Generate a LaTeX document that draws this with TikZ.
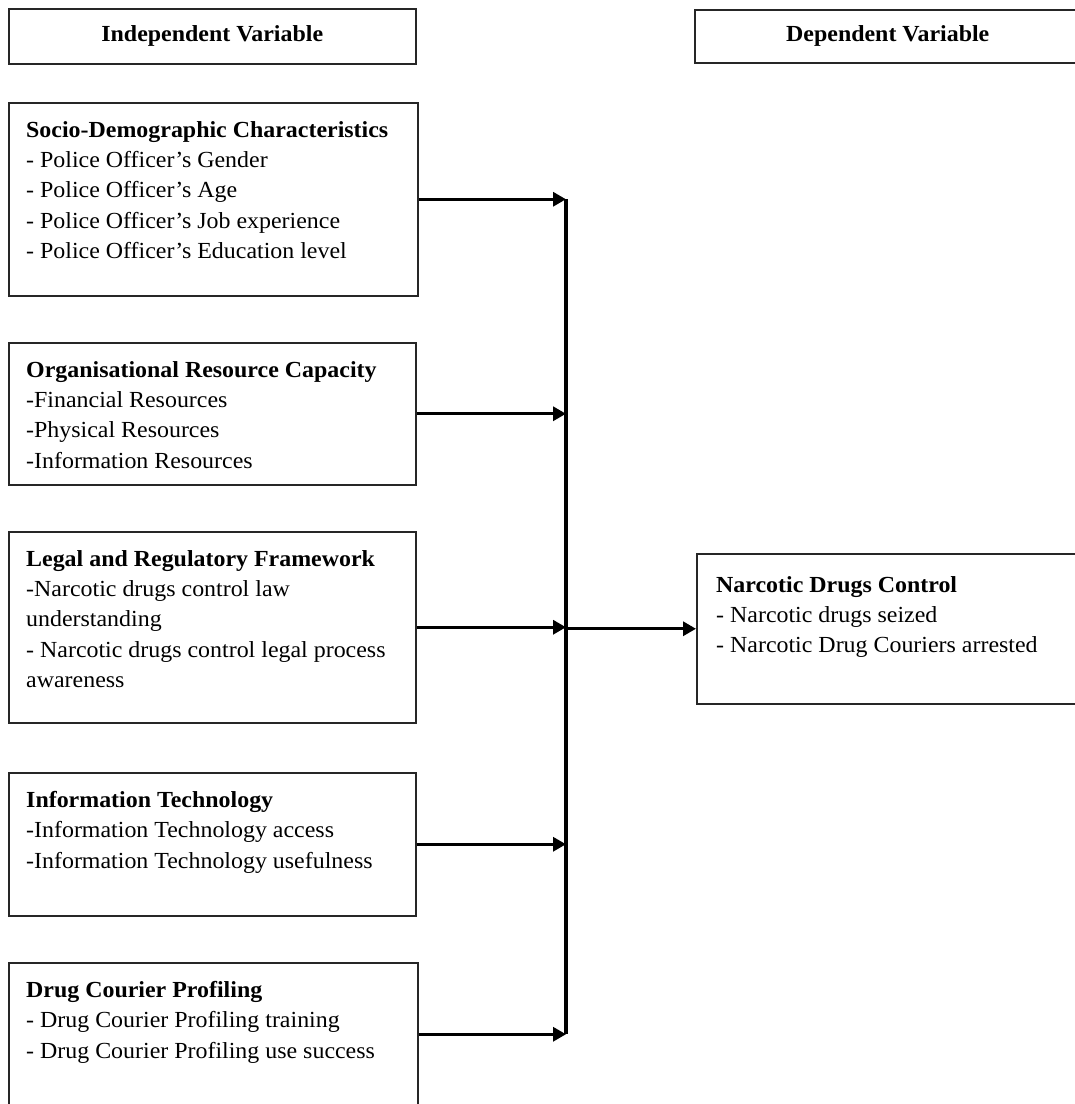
\documentclass[tikz,border=0pt]{standalone}
\usepackage{fontspec}
\setmainfont{Liberation Serif}[FakeStretch=1.04]
\usetikzlibrary{arrows.meta,calc,positioning}

\tikzset{
  varbox/.style={draw=black!85, line width=1.5pt, inner sep=0pt, anchor=north west},
  headbox/.style={varbox, font=\fontsize{23}{30.3}\selectfont\bfseries},
  vartext/.style={anchor=north west, inner sep=0pt, align=left},
  link/.style={line width=3.2pt, -{Triangle[length=13pt,width=14pt]}},
}

\begin{document}
\begin{tikzpicture}[x=1pt,y=-1pt,font=\fontsize{23}{30.3}\selectfont]
        % save x of the collecting line and the text offsets to macros
        \pgfmathsetmacro{\spineX}{566}
        \pgfmathsetmacro{\padX}{18}
        \pgfmathsetmacro{\padY}{19}
        \useasboundingbox (0,0) rectangle (1075,1104);

        % column headers
        \node[headbox, minimum width=407pt, minimum height=55pt] (indep) at (8,8) {Independent Variable};
        \node[headbox, minimum width=386pt, minimum height=53pt] (dep) at (694,9) {Dependent Variable};

        % independent variable boxes
        \node[varbox, minimum width=409pt, minimum height=193pt] (socio) at (8,102) {};
        \node[vartext] (sociotext) at ($(socio.north west)+(\padX,\padY)$)
          {\textbf{Socio-Demographic Characteristics}\\- Police Officer’s Gender\\- Police Officer’s Age\\- Police Officer’s Job experience\\- Police Officer’s Education level};
        \node[varbox, minimum width=407pt, minimum height=142pt] (orgres) at (8,342) {};
        \node[vartext] (orgrestext) at ($(orgres.north west)+(\padX,\padY)$)
          {\textbf{Organisational Resource Capacity}\\-Financial Resources\\-Physical Resources\\-Information Resources};
        \node[varbox, minimum width=407pt, minimum height=191pt] (legal) at (8,531) {};
        \node[vartext] (legaltext) at ($(legal.north west)+(\padX,\padY)$)
          {\textbf{Legal and Regulatory Framework}\\-Narcotic drugs control law\\understanding\\- Narcotic drugs control legal process\\awareness};
        \node[varbox, minimum width=407pt, minimum height=143pt] (infotech) at (8,772) {};
        \node[vartext] (infotechtext) at ($(infotech.north west)+(\padX,\padY)$)
          {\textbf{Information Technology}\\-Information Technology access\\-Information Technology usefulness};
        \node[varbox, minimum width=409pt, minimum height=143pt] (profiling) at (8,962) {};
        \node[vartext] (profilingtext) at ($(profiling.north west)+(\padX,\padY)$)
          {\textbf{Drug Courier Profiling}\\- Drug Courier Profiling training\\- Drug Courier Profiling use success};

        % dependent variable box
        \node[varbox, minimum width=384pt, minimum height=150pt] (narc) at (696,553) {};
        \node[vartext] (narctext) at ($(narc.north west)+(20,23)$)
          {\textbf{Narcotic Drugs Control}\\- Narcotic drugs seized\\- Narcotic Drug Couriers arrested};

        % collecting line and arrows
        \coordinate (spine) at (\spineX,0);
        \draw[line width=3.2pt] (socio.east -| spine) -- (profiling.east -| spine);
        \foreach \v in {socio,orgres,legal,infotech,profiling}
          \draw[link] (\v.east) -- (\v.east -| spine);
        \draw[link] (narc.west -| spine) -- (narc.west);
    \end{tikzpicture}
\end{document}
